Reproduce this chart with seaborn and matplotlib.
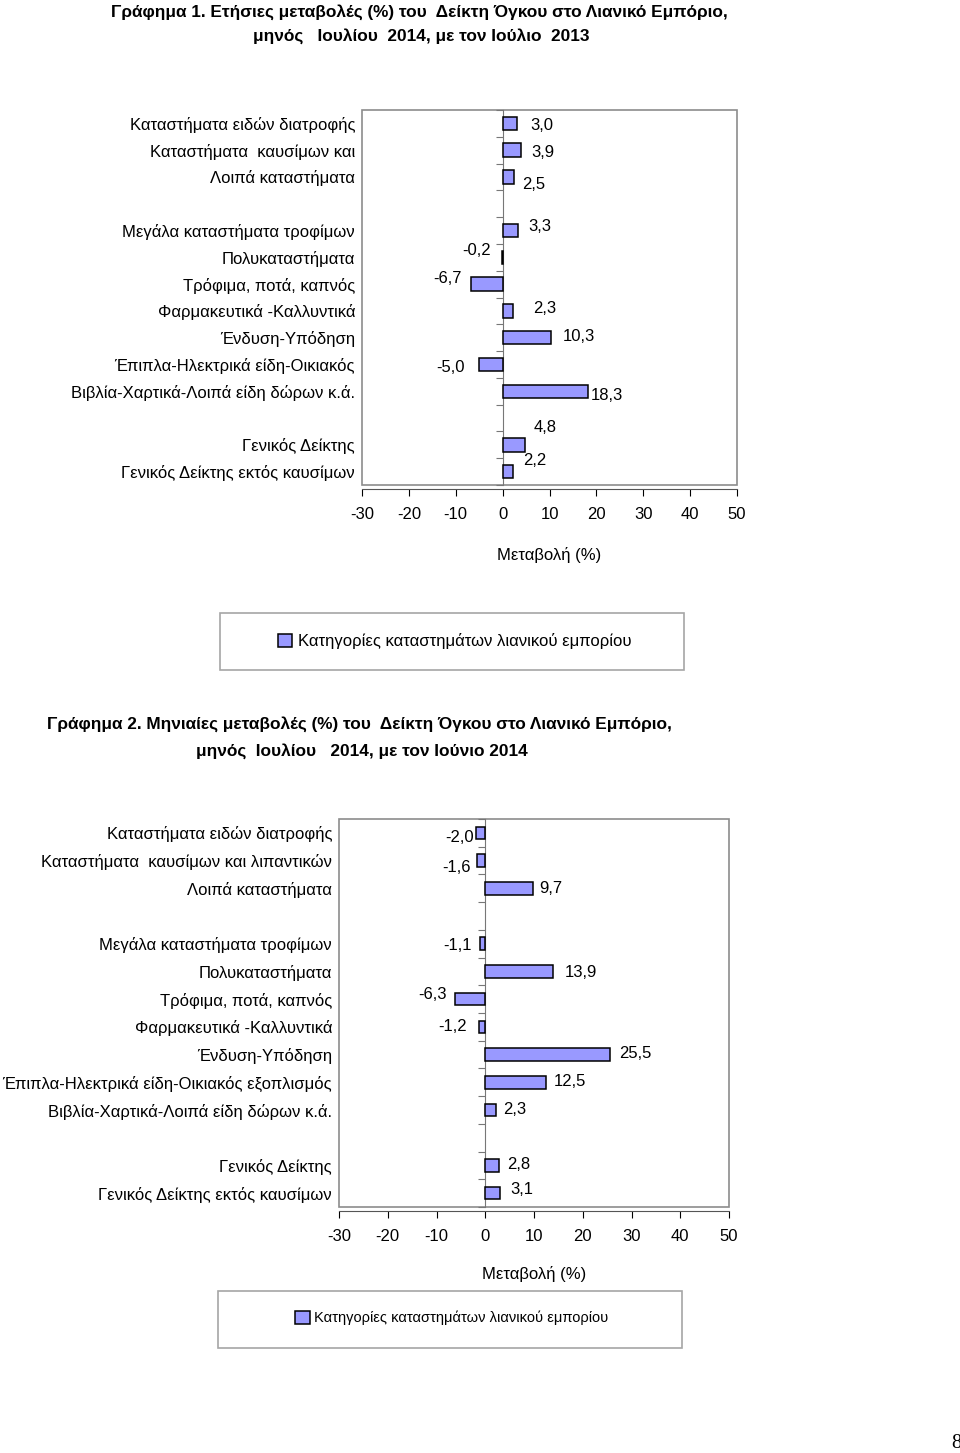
import numpy as np
import pandas as pd
import seaborn as sns
import matplotlib.pyplot as plt
from matplotlib import font_manager
from matplotlib.patches import Rectangle

# ---- data ----
cats1 = ["Καταστήματα ειδών διατροφής", "Καταστήματα  καυσίμων και", "Λοιπά καταστήματα",
         "Μεγάλα καταστήματα τροφίμων", "Πολυκαταστήματα", "Τρόφιμα, ποτά, καπνός",
         "Φαρμακευτικά -Καλλυντικά", "Ένδυση-Υπόδηση", "Έπιπλα-Ηλεκτρικά είδη-Οικιακός",
         "Βιβλία-Χαρτικά-Λοιπά είδη δώρων κ.ά.", "Γενικός Δείκτης", "Γενικός Δείκτης εκτός καυσίμων"]
vals1 = [3.0, 3.9, 2.5, 3.3, -0.2, -6.7, 2.3, 10.3, -5.0, 18.3, 4.8, 2.2]

cats2 = ["Καταστήματα ειδών διατροφής", "Καταστήματα  καυσίμων και λιπαντικών", "Λοιπά καταστήματα",
         "Μεγάλα καταστήματα τροφίμων", "Πολυκαταστήματα", "Τρόφιμα, ποτά, καπνός",
         "Φαρμακευτικά -Καλλυντικά", "Ένδυση-Υπόδηση", "Έπιπλα-Ηλεκτρικά είδη-Οικιακός εξοπλισμός",
         "Βιβλία-Χαρτικά-Λοιπά είδη δώρων κ.ά.", "Γενικός Δείκτης", "Γενικός Δείκτης εκτός καυσίμων"]
vals2 = [-2.0, -1.6, 9.7, -1.1, 13.9, -6.3, -1.2, 25.5, 12.5, 2.3, 2.8, 3.1]

legend_text = "Κατηγορίες καταστημάτων λιανικού εμπορίου"
xlabel = "Μεταβολή (%)"
xticks = [-30, -20, -10, 0, 10, 20, 30, 40, 50]

# label nudges (pixels) to mimic the original placement
offs1 = [(14, -2), (10, -2), (8, -8), (10, 4), (-11, 7), (-9, 6),
         (20, 2), (12, 1), (-14, -3), (2, -4), (8, 17), (10, 11)]
offs2 = [(-2, -5), (-7, -7), (7, 0), (-8, -2), (12, -1), (-8, 5),
         (-13, 0), (10, 1), (8, 1), (7, 1), (8, 1), (10, 4)]

installed = {f.name for f in font_manager.fontManager.ttflist}
sans = "Liberation Sans" if "Liberation Sans" in installed else "DejaVu Sans"
narrow = "Liberation Sans Narrow" if "Liberation Sans Narrow" in installed else sans

plt.rcParams['font.family'] = [sans, 'DejaVu Sans']
plt.rcParams['axes.unicode_minus'] = False

BAR = "#9999FF"
FS = 12
TFS = 12.4


def make_order(cats):
    return cats[:3] + [" "] + cats[3:10] + ["  "] + cats[10:]


def draw(fig, rect, cats, vals, offs, bar_w, xpad):
    order = make_order(cats)
    df = pd.DataFrame({"cat": cats, "val": vals})
    ax = fig.add_axes(rect)
    sns.barplot(data=df, x="val", y="cat", order=order, orient="h", color=BAR,
                saturation=1, width=bar_w, edgecolor="black", linewidth=1.1,
                label=legend_text, ax=ax)
    if ax.get_legend() is not None:
        ax.get_legend().remove()
    ax.set_xlim(xticks[0], xticks[-1])
    ax.set_xticks(xticks)
    ax.set_xticklabels([str(t) for t in xticks])
    ax.set_ylabel("")
    ax.set_xlabel(xlabel, fontsize=FS, labelpad=xpad)
    ax.tick_params(axis="y", length=0, pad=5, labelsize=FS)
    ax.tick_params(axis="x", length=5, direction="out", pad=8, labelsize=FS)

    # frame of the plot area
    for s in ["top", "left", "right"]:
        ax.spines[s].set_visible(False)
    ax.patch.set_edgecolor("#8c8c8c")
    ax.patch.set_linewidth(1.2)
    ax.spines["bottom"].set_position(("outward", 3))
    ax.spines["bottom"].set_color("#555555")

    # category axis sits at x = 0 with ticks between the groups
    x0, x1 = ax.get_xlim()
    sec = ax.secondary_yaxis((0 - x0) / (x1 - x0), functions=(lambda y: y, lambda y: y))
    sec.set_yticks(np.arange(len(order) + 1) - 0.5)
    sec.set_yticklabels([])
    sec.tick_params(axis="y", direction="out", length=5, color="#777777")
    for s in sec.spines.values():
        s.set_color("#777777")

    for c, v, (dx, dy) in zip(cats, vals, offs):
        y = order.index(c)
        ax.annotate(f"{v:.1f}".replace(".", ","), xy=(v, y), xytext=(dx, dy),
                    textcoords="offset pixels", ha="left" if dx > 0 and v > 0 else "right",
                    va="center", fontsize=FS)
    return ax


W, H = 960, 1453
fig = plt.figure(figsize=(W / 100, H / 100), dpi=100)
fig.patch.set_facecolor("white")


def fx(px):
    return px / W


def fy(py):
    return 1 - py / H


# ---- chart 1 ----
fig.text(fx(419), fy(12), "Γράφημα 1. Ετήσιες μεταβολές (%) του  Δείκτη Όγκου στο Λιανικό Εμπόριο,",
         ha="center", va="center", fontsize=TFS, fontweight="bold", family=[narrow, 'DejaVu Sans'])
fig.text(fx(421), fy(36), "μηνός   Ιουλίου  2014, με τον Ιούλιο  2013",
         ha="center", va="center", fontsize=TFS, fontweight="bold", family=[narrow, 'DejaVu Sans'])
ax1 = draw(fig, [fx(362), fy(485), fx(737) - fx(362), fy(110) - fy(485)], cats1, vals1, offs1, 0.5, 17.5)

h, l = ax1.get_legend_handles_labels()
fig.legend(h[:1], l[:1], loc="center", bbox_to_anchor=(fx(455), fy(641)), frameon=False,
           fontsize=FS, handlelength=0.8, handleheight=0.8, handletextpad=0.4)
fig.add_artist(Rectangle((fx(220), fy(670)), fx(684) - fx(220), fy(613) - fy(670),
                         transform=fig.transFigure, fill=False, edgecolor="#a6a6a6", lw=1.2))

# ---- chart 2 ----
fig.text(fx(359), fy(724), "Γράφημα 2. Μηνιαίες μεταβολές (%) του  Δείκτη Όγκου στο Λιανικό Εμπόριο,",
         ha="center", va="center", fontsize=TFS, fontweight="bold", family=[narrow, 'DejaVu Sans'])
fig.text(fx(362), fy(751), "μηνός  Ιουλίου   2014, με τον Ιούνιο 2014",
         ha="center", va="center", fontsize=TFS, fontweight="bold", family=[narrow, 'DejaVu Sans'])
ax2 = draw(fig, [fx(339), fy(1207), fx(729) - fx(339), fy(819) - fy(1207)], cats2, vals2, offs2, 0.45, 16)

h, l = ax2.get_legend_handles_labels()
fig.legend(h[:1], l[:1], loc="center", bbox_to_anchor=(fx(452), fy(1318)), frameon=False,
           handlelength=1.0, handleheight=1.0, handletextpad=0.3,
           prop={"family": [narrow, 'DejaVu Sans'], "size": 10.5})
fig.add_artist(Rectangle((fx(218), fy(1348)), fx(682) - fx(218), fy(1291) - fy(1348),
                         transform=fig.transFigure, fill=False, edgecolor="#a6a6a6", lw=1.2))

# page number
fig.text(fx(956), fy(1443), "8", ha="center", va="center", fontsize=15,
         family=["Liberation Serif", "DejaVu Serif"])

fig.savefig("out.png", dpi=100)
